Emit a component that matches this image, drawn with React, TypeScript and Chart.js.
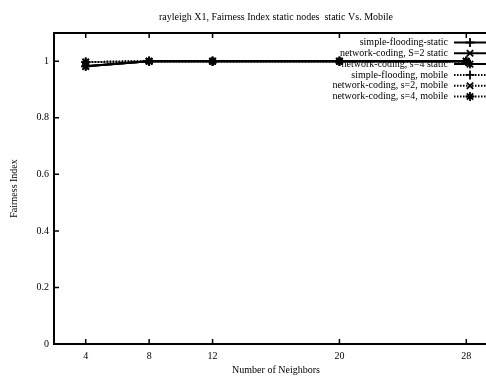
import React, { useEffect, useRef } from 'react';
import { Chart, registerables } from 'chart.js';
import { drawPoint } from 'chart.js/helpers';

Chart.register(...registerables);

const TITLE = 'rayleigh X1, Fairness Index static nodes  static Vs. Mobile';
const X_TITLE = 'Number of Neighbors';
const Y_TITLE = 'Fairness Index';

const neighbors = [4, 8, 12, 20, 28];
const yTickValues = [0, 0.2, 0.4, 0.6, 0.8, 1];

const seriesLabels = [
  'simple-flooding-static',
  'network-coding, S=2 static',
  'network-coding, s=4 static',
  'simple-flooding, mobile',
  'network-coding, s=2, mobile',
  'network-coding, s=4, mobile',
];

const simpleFloodingStatic = [0.982, 1, 1, 1, 1];
const ncS2Static = [0.982, 1, 1, 1, 1];
const ncS4Static = [0.982, 1, 1, 1, 1];
const simpleFloodingMobile = [0.997, 1, 1, 1, 1];
const ncS2Mobile = [0.997, 1, 1, 1, 1];
const ncS4Mobile = [0.997, 1, 1, 1, 1];

const seriesValues = [
  simpleFloodingStatic,
  ncS2Static,
  ncS4Static,
  simpleFloodingMobile,
  ncS2Mobile,
  ncS4Mobile,
];
const markerStyles = ['cross', 'crossRot', 'star', 'cross', 'crossRot', 'star'];
const dashed = [false, false, false, true, true, true];

const FONT = 'Liberation Serif, Times New Roman, serif';
const CANVAS_W = 510;
const CANVAS_H = 376;

const framePlugin = {
  id: 'gnuplotFrame',
  beforeDatasetsDraw(chart: any) {
    const { ctx, chartArea } = chart;
    // legend (gnuplot key, text right-aligned, sample to the right)
    ctx.save();
    ctx.font = `10px ${FONT}`;
    ctx.fillStyle = '#000';
    ctx.textAlign = 'right';
    ctx.textBaseline = 'middle';
    const textRight = chartArea.right - 50;
    const sampleL = chartArea.right - 44;
    const sampleR = chartArea.right - 10;
    chart.data.datasets.forEach((ds: any, i: number) => {
      const y = chartArea.top + 9.5 + i * 10.8;
      ctx.fillText(ds.label, textRight, y);
      ctx.strokeStyle = '#000';
      ctx.lineWidth = ds.borderWidth;
      ctx.setLineDash(ds.borderDash || []);
      ctx.beginPath();
      ctx.moveTo(sampleL, y);
      ctx.lineTo(sampleR, y);
      ctx.stroke();
      ctx.setLineDash([]);
      ctx.lineWidth = ds.pointBorderWidth;
      drawPoint(ctx, { pointStyle: ds.pointStyle, radius: ds.pointRadius, rotation: 0, borderWidth: ds.pointBorderWidth } as any, (sampleL + sampleR) / 2 - 1, y);
    });
    ctx.restore();
  },
  afterDraw(chart: any) {
    const { ctx, chartArea, scales } = chart;
    ctx.save();
    ctx.strokeStyle = '#000';
    ctx.lineWidth = 2;
    ctx.strokeRect(chartArea.left, chartArea.top, chartArea.right - chartArea.left, chartArea.bottom - chartArea.top);
    ctx.lineWidth = 1.5;
    const tl = 5;
    neighbors.forEach((v) => {
      const x = scales.x.getPixelForValue(v);
      ctx.beginPath();
      ctx.moveTo(x, chartArea.bottom);
      ctx.lineTo(x, chartArea.bottom - tl);
      ctx.moveTo(x, chartArea.top);
      ctx.lineTo(x, chartArea.top + tl);
      ctx.stroke();
    });
    yTickValues.forEach((v) => {
      const y = scales.y.getPixelForValue(v);
      ctx.beginPath();
      ctx.moveTo(chartArea.left, y);
      ctx.lineTo(chartArea.left + tl, y);
      ctx.moveTo(chartArea.right, y);
      ctx.lineTo(chartArea.right - tl, y);
      ctx.stroke();
    });
    ctx.restore();
  },
};

export default function App() {
  const ref = useRef<HTMLCanvasElement | null>(null);

  useEffect(() => {
    if (!ref.current) return;
    const datasets = seriesLabels.map((label, i) => ({
      label,
      data: neighbors.map((x, j) => ({ x, y: seriesValues[i][j] })),
      borderColor: '#000',
      backgroundColor: '#000',
      borderWidth: 2,
      borderDash: dashed[i] ? [1.5, 1.5] : [],
      pointStyle: markerStyles[i],
      pointRadius: 4.5,
      pointBorderWidth: 1.8,
      pointBorderColor: '#000',
      tension: 0,
      fill: false,
    }));
    const chart = new Chart(ref.current, {
      type: 'line',
      data: { datasets },
      options: {
        animation: false,
        responsive: false,
        devicePixelRatio: 1,
        layout: { padding: { left: 0, right: CANVAS_W - 498, top: 0, bottom: 0 } },
        plugins: {
          legend: { display: false },
          tooltip: { enabled: false },
          title: {
            display: true,
            text: TITLE,
            fullSize: false,
            color: '#000',
            font: { family: FONT, size: 10, weight: 'normal' },
            padding: { top: 11, bottom: 10 },
          },
        },
        scales: {
          x: {
            type: 'linear',
            min: 2,
            max: 30,
            afterBuildTicks: (s: any) => {
              s.ticks = neighbors.map((v) => ({ value: v }));
            },
            afterFit: (s: any) => {
              s.height = 32;
            },
            grid: { display: false, drawTicks: false },
            border: { display: false },
            ticks: {
              color: '#000',
              font: { family: FONT, size: 10 },
              padding: 6,
              maxRotation: 0,
              autoSkip: false,
              callback: (v: any) => String(v),
            },
            title: {
              display: true,
              text: X_TITLE,
              color: '#000',
              font: { family: FONT, size: 10 },
              padding: { top: 0, bottom: 0 },
            },
          },
          y: {
            type: 'linear',
            min: 0,
            max: 1.1,
            afterBuildTicks: (s: any) => {
              s.ticks = yTickValues.map((v) => ({ value: v }));
            },
            afterFit: (s: any) => {
              s.width = 54;
            },
            grid: { display: false, drawTicks: false },
            border: { display: false },
            ticks: {
              color: '#000',
              font: { family: FONT, size: 10 },
              padding: 5,
              autoSkip: false,
              callback: (v: any) => String(v),
            },
            title: {
              display: true,
              text: Y_TITLE,
              color: '#000',
              font: { family: FONT, size: 10 },
              padding: { top: 8, bottom: 0 },
            },
          },
        },
      },
      plugins: [framePlugin],
    } as any);
    return () => chart.destroy();
  }, []);

  return (
    <div
      style={{
        position: 'absolute',
        left: 0,
        top: 0,
        width: 486,
        height: 376,
        overflow: 'hidden',
        background: '#fff',
      }}
    >
      <canvas ref={ref} width={CANVAS_W} height={CANVAS_H} style={{ display: 'block', width: CANVAS_W, height: CANVAS_H }} />
    </div>
  );
}
